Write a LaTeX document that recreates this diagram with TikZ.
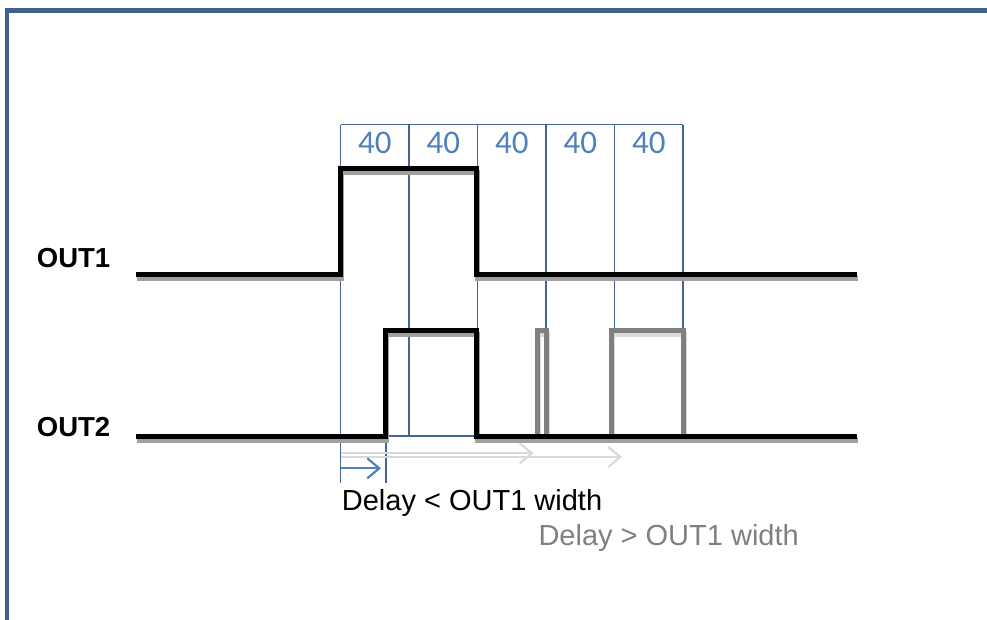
\documentclass[tikz,border=0pt]{standalone}
\usepackage{fontspec}
\setmainfont{Liberation Sans}
\newfontfamily\numfont{Carlito}
\usetikzlibrary{arrows.meta}
\definecolor{framebl}{RGB}{62,96,140}
\definecolor{gridbl}{RGB}{66,102,152}
\definecolor{textbl}{RGB}{79,129,189}
\definecolor{pulsegr}{RGB}{128,128,128}
\definecolor{shadegr}{RGB}{160,160,160}
\definecolor{lightgr}{RGB}{217,217,217}
\begin{document}
\begin{tikzpicture}[x=1pt, y=-1pt,
    sig/.style={line width=5pt, line join=miter},
    shade/.style={sig, shadegr, shift={(1,4)}},
    grid/.style={gridbl, line width=1.1pt},
    numlbl/.style={textbl, font=\numfont\fontsize{33}{33}\selectfont, anchor=base, inner sep=0pt},
    siglbl/.style={font=\bfseries\fontsize{27.5}{27.5}\selectfont, anchor=base west, inner sep=0pt},
    note/.style={font=\fontsize{29}{29}\selectfont, anchor=base west, inner sep=0pt},
    delay/.style={line width=2.2pt, -{Straight Barb[length=12pt, width=20pt]}}]
    \useasboundingbox (0,0) rectangle (987,620);
    \draw[framebl, line width=4.5pt, line join=miter] (7,620) -- (7,10.5) -- (987,10.5);
    \draw[grid] (340.5,124.7) -- (683,124.7);
    \foreach \i in {0,...,5}
        \coordinate (g\i) at ({340.5+68.5*\i},124.7);
    \draw[grid] (g0) -- (340.5,483);
    \draw[grid] (g1) -- (409,436);
    \draw[grid] (g2) -- (477.5,436);
    \draw[grid] (g3) -- (546,330);
    \draw[grid] (g4) -- (614.5,330);
    \draw[grid] (g5) -- (683,330);
    \draw[grid] (386,436) -- (477.5,436);
    \draw[grid] (386,436) -- (386,483);
    \foreach \i in {0,...,4}
        \node[numlbl] (n\i) at ({374.75+68.5*\i},153.5) {40};
    \draw[shade] (136,274.5) -- (340.5,274.5) -- (340.5,168.7) -- (476,168.7) -- (476,274.5) -- (856.7,274.5);
    \draw[sig] (136,274.5) -- (340.5,274.5) -- (340.5,168.7) -- (476,168.7) -- (476,274.5) -- (856.7,274.5);
    \draw[shade, lightgr] (537.5,436.3) -- (537.5,330) -- (546.5,330) -- (546.5,436.3);
    \draw[shade, lightgr] (611.7,436.3) -- (611.7,330) -- (683,330) -- (683,436.3);
    \draw[sig, pulsegr] (537.5,436.3) -- (537.5,330) -- (546.5,330) -- (546.5,436.3);
    \draw[sig, pulsegr] (611.7,436.3) -- (611.7,330) -- (683,330) -- (683,436.3);
    \draw[shade] (136,436.3) -- (385.7,436.3) -- (385.7,330) -- (476.7,330) -- (476.7,436.3) -- (856.7,436.3);
    \draw[sig] (136,436.3) -- (385.7,436.3) -- (385.7,330) -- (476.7,330) -- (476.7,436.3) -- (856.7,436.3);
    \coordinate (d0) at (340.5,468.3);
    \coordinate (d1) at (381,468.3);
    \coordinate (e0) at (340.5,453.3);
    \coordinate (e1) at (533.5,453.3);
    \coordinate (f0) at (340.5,457);
    \coordinate (f1) at (622,457);
    \draw[delay, lightgr] (e0) -- (e1);
    \draw[delay, lightgr] (f0) -- (f1);
    \draw[delay, textbl] (d0) -- (d1);
    \node[siglbl] (out1) at (36.7,267.3) {OUT1};
    \node[siglbl] (out2) at (36.7,436) {OUT2};
    \node[note] (short) at (341.7,510.7) {Delay < OUT1 width};
    \node[note, pulsegr] (long) at (538.3,545) {Delay > OUT1 width};
\end{tikzpicture}
\end{document}
